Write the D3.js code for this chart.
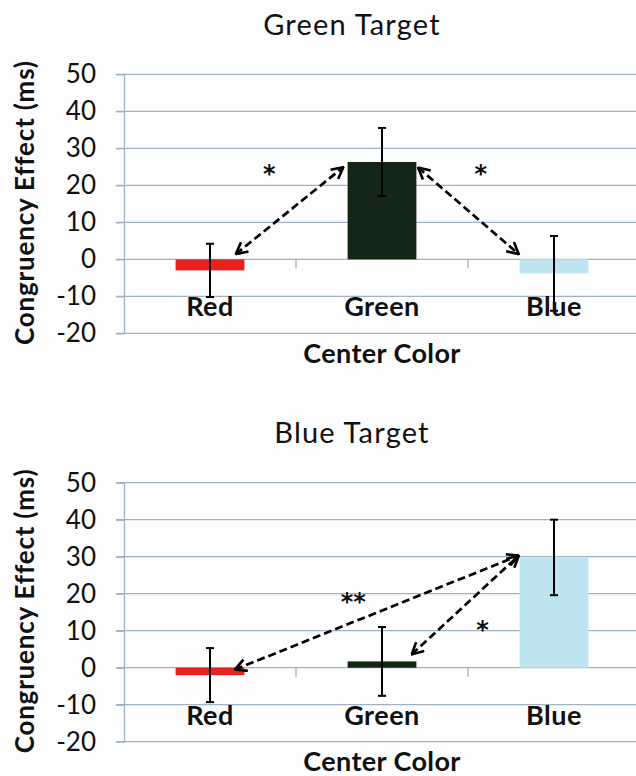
<!DOCTYPE html>
<html><head><meta charset="utf-8">
<script src="https://cdn.jsdelivr.net/npm/d3@7"></script>
<style>body{margin:0;background:#fdfdfe}svg{display:block}</style>
</head><body>
<svg id="chart" width="636" height="776"></svg>
<script>
const categories = ["Red", "Green", "Blue"];
const yTickValues = [-20, -10, 0, 10, 20, 30, 40, 50];
const greenTargetMeans = [-3.0, 26.3, -3.8];
const greenTargetErrors = [7.2, 9.2, 10.1];
const blueTargetMeans = [-2.0, 1.7, 29.8];
const blueTargetErrors = [7.3, 9.3, 10.2];
const barColors = ["#e8231e", "#142616", "#bee4ef"];
// arrow ends: [category, offset from category centre in band widths, value]
const greenTargetArrows = [
  [["Red", 0.15, 1.4], ["Green", -0.225, 24.9]],
  [["Green", 0.21, 24.8], ["Blue", -0.205, 1.4]]
];
const greenTargetStars = [["*", "Red", 0.345, 25], ["*", "Green", 0.575, 25]];
const blueTargetArrows = [
  [["Red", 0.145, -0.5], ["Blue", -0.205, 30.3]],
  [["Green", 0.173, 3.6], ["Blue", -0.205, 30.3]]
];
const blueTargetStars = [["**", "Green", -0.167, 19.5], ["*", "Green", 0.585, 12]];

const panels = [
  {title: "Green Target", means: greenTargetMeans, errors: greenTargetErrors, arrows: greenTargetArrows, stars: greenTargetStars, top: 74.3},
  {title: "Blue Target", means: blueTargetMeans, errors: blueTargetErrors, arrows: blueTargetArrows, stars: blueTargetStars, top: 482.7}
];

const W = 636, plotLeft = 124, plotRight = 640, plotH = 259;
const gridColor = "#a0b2c4";
const font = "Lato, 'Open Sans', sans-serif";

const svg = d3.select("#chart");
svg.append("rect").attr("width", W).attr("height", 776).attr("fill", "#fdfdfe");

const defs = svg.append("defs");
defs.append("marker").attr("id", "ah")
  .attr("viewBox", "0 0 14 14").attr("refX", 13).attr("refY", 7)
  .attr("markerWidth", 14).attr("markerHeight", 14)
  .attr("markerUnits", "userSpaceOnUse").attr("orient", "auto-start-reverse")
  .append("path").attr("d", "M1.5,1 L13,7 L1.5,13")
  .attr("fill", "none").attr("stroke", "#000").attr("stroke-width", 2.6)
  .attr("stroke-dasharray", "none").attr("stroke-linejoin", "miter");

const x = d3.scaleBand().domain(categories).range([plotLeft, plotRight]);
const bw = x.bandwidth();
const barW = bw * 0.4;
const cx = c => x(c) + bw / 2;

panels.forEach(p => {
  const g = svg.append("g");
  const y = d3.scaleLinear().domain([-20, 50]).range([p.top + plotH, p.top]);

  // gridlines
  g.append("g").selectAll("line").data(yTickValues).join("line")
    .attr("x1", plotLeft - 8).attr("x2", W)
    .attr("y1", d => y(d)).attr("y2", d => y(d))
    .attr("stroke", gridColor).attr("stroke-width", 1.3);

  // bars
  g.append("g").selectAll("rect").data(categories).join("rect")
    .attr("x", c => cx(c) - barW / 2)
    .attr("y", (c, i) => y(Math.max(0, p.means[i])))
    .attr("width", barW)
    .attr("height", (c, i) => Math.abs(y(p.means[i]) - y(0)))
    .attr("fill", (c, i) => barColors[i]);

  // y axis
  const ax = g.append("g").attr("transform", `translate(${plotLeft},0)`)
    .call(d3.axisLeft(y).tickValues(yTickValues).tickFormat(d => String(d))
      .tickSizeInner(8).tickSizeOuter(0).tickPadding(20));
  ax.select(".domain").attr("stroke", gridColor).attr("stroke-width", 1.3);
  ax.selectAll(".tick line").attr("stroke", gridColor).attr("stroke-width", 1.3);
  ax.selectAll(".tick text").attr("font-family", font).attr("font-size", 26).attr("fill", "#111");

  // category separator ticks on zero line
  g.append("g").selectAll("line").data(categories.slice(1)).join("line")
    .attr("x1", c => x(c)).attr("x2", c => x(c))
    .attr("y1", y(0)).attr("y2", y(0) + 9)
    .attr("stroke", gridColor).attr("stroke-width", 1.3);

  // error bars
  const eb = g.append("g").attr("stroke", "#000").attr("stroke-width", 2);
  categories.forEach((c, i) => {
    const m = p.means[i], e = p.errors[i];
    eb.append("line").attr("x1", cx(c)).attr("x2", cx(c)).attr("y1", y(m + e)).attr("y2", y(m - e));
    eb.append("line").attr("x1", cx(c) - 4).attr("x2", cx(c) + 4).attr("y1", y(m + e)).attr("y2", y(m + e));
    eb.append("line").attr("x1", cx(c) - 4).attr("x2", cx(c) + 4).attr("y1", y(m - e)).attr("y2", y(m - e));
  });

  // arrows
  g.append("g").selectAll("line").data(p.arrows).join("line")
    .attr("x1", d => cx(d[0][0]) + d[0][1] * bw).attr("y1", d => y(d[0][2]))
    .attr("x2", d => cx(d[1][0]) + d[1][1] * bw).attr("y2", d => y(d[1][2]))
    .attr("stroke", "#000").attr("stroke-width", 2.7)
    .attr("stroke-dasharray", "8,4")
    .attr("marker-start", "url(#ah)").attr("marker-end", "url(#ah)");

  // stars
  g.append("g").selectAll("text").data(p.stars).join("text")
    .attr("x", d => cx(d[1]) + d[2] * bw).attr("y", d => y(d[3]))
    .attr("dy", "0.62em").attr("text-anchor", "middle")
    .attr("font-family", "'DejaVu Sans', sans-serif").attr("font-weight", "bold").attr("font-size", 24)
    .attr("fill", "#111").text(d => d[0]);

  // category labels
  g.append("g").selectAll("text").data(categories).join("text")
    .attr("x", c => cx(c)).attr("y", y(0) + 57)
    .attr("text-anchor", "middle")
    .attr("font-family", font).attr("font-weight", "bold").attr("font-size", 27)
    .attr("letter-spacing", 0.5)
    .attr("fill", "#111").text(c => c);

  // x axis title
  g.append("text").attr("x", (plotLeft + plotRight) / 2).attr("y", y(0) + 103.5)
    .attr("text-anchor", "middle")
    .attr("font-family", font).attr("font-weight", "bold").attr("font-size", 27)
    .attr("letter-spacing", 0.4)
    .attr("fill", "#111").text("Center Color");

  // y axis title
  g.append("text").attr("transform", `translate(34,${p.top + 128.3}) rotate(-90)`)
    .attr("text-anchor", "middle")
    .attr("font-family", font).attr("font-weight", "bold").attr("font-size", 26)
    .attr("letter-spacing", 0.8)
    .attr("fill", "#111").text("Congruency Effect (ms)");

  // chart title
  g.append("text").attr("x", 352).attr("y", p.top - 39.5)
    .attr("text-anchor", "middle")
    .attr("font-family", font).attr("font-size", 29)
    .attr("letter-spacing", 1.2)
    .attr("fill", "#111").text(p.title);
});
</script>
</body></html>
